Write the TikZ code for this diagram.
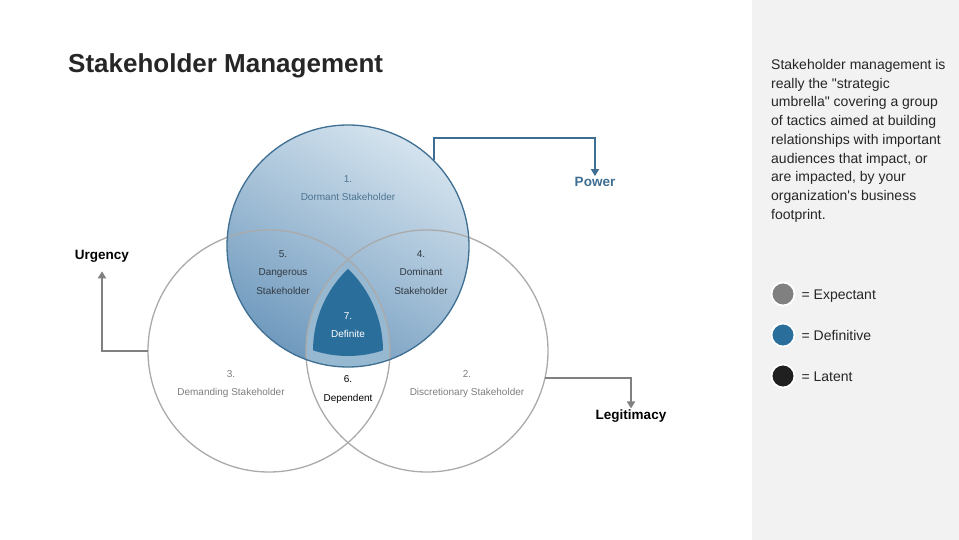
\documentclass[tikz,border=0pt]{standalone}
\usepackage{fontspec}
\setmainfont{Liberation Sans}[Ligatures=TeXOff]
\usepackage{tikz}
\usetikzlibrary{positioning,arrows.meta}
\definecolor{pwrclr}{RGB}{62,110,145}
\definecolor{pwrtop}{RGB}{212,227,238}
\definecolor{pwrbot}{RGB}{112,154,190}
\definecolor{bandclr}{RGB}{150,184,208}
\definecolor{defclr}{RGB}{42,110,155}
\definecolor{ringclr}{RGB}{170,170,170}
\definecolor{axisclr}{RGB}{128,128,128}
\definecolor{panelclr}{RGB}{242,242,242}
\definecolor{txtclr}{RGB}{38,38,38}
\definecolor{lblgray}{RGB}{125,125,125}
\definecolor{lbldark}{RGB}{50,58,66}
\definecolor{lblblue}{RGB}{75,115,145}
\definecolor{expclr}{RGB}{128,128,128}
\definecolor{latclr}{RGB}{32,32,32}
\tikzset{
  venn/.style={circle,minimum size=242pt,inner sep=0pt,outer sep=0pt},
  ring/.style={venn,draw=ringclr,line width=1.3pt},
  pwring/.style={venn,draw=pwrclr,line width=1.3pt},
  region/.style={align=center,font=\fontsize{10}{18.5}\selectfont,inner sep=0pt},
  axislbl/.style={font=\fontsize{13.5}{16}\selectfont\bfseries,inner sep=1pt},
  axisline/.style={draw=axisclr,line width=2pt,-{Triangle[length=7pt,width=8pt]}},
  key/.style={circle,draw=white,line width=1.8pt,minimum size=23pt,inner sep=0pt},
  keylbl/.style={font=\fontsize{14}{16}\selectfont,text=txtclr,inner sep=0pt},
}

\begin{document}
\begin{tikzpicture}[x=1pt,y=-1pt]
\useasboundingbox (0,0) rectangle (959,540);
\fill[panelclr] (752,0) rectangle (959,540);
\node[font=\fontsize{26}{30}\selectfont\bfseries,text=txtclr,anchor=base west,inner sep=0pt] (title) at (68,73) {Stakeholder Management};

\coordinate (uc) at (269,351);
\coordinate (lc) at (427,351);
\coordinate (pc) at (348,246);
\shade[top color=pwrtop,bottom color=pwrbot,shading angle=-30] (pc) circle (121pt);
\begin{scope}
  \clip (uc) circle (121pt);
  \clip (lc) circle (121pt);
  \fill[bandclr] (pc) circle (121pt);
\end{scope}
\begin{scope}
  \clip (uc) circle (114pt);
  \clip (lc) circle (114pt);
  \fill[defclr] (pc) circle (110pt);
\end{scope}
\node[ring] (urg) at (uc) {};
\node[ring] (leg) at (lc) {};
\node[pwring] (pow) at (pc) {};

\node[region,text=lblblue] (dormant) at (348,188) {1.\\Dormant Stakeholder};
\node[region,text=lbldark] (danger) at (283,272.5) {5.\\Dangerous\\Stakeholder};
\node[region,text=lbldark] (domin) at (421,272.5) {4.\\Dominant\\Stakeholder};
\node[region,text=white] (defin) at (348,325) {7.\\Definite};
\node[region,text=lblgray] (demand) at (231,384) {3.\\Demanding Stakeholder};
\node[region,text=black] (depend) at (348,389.5) {6.\\Dependent};
\node[region,text=lblgray] (discr) at (467,384) {2.\\Discretionary Stakeholder};

\node[axislbl,text=pwrclr] (pwrlbl) at (595,182) {Power};
\node[axislbl,text=black] (urglbl) at (102,256) {Urgency};
\node[axislbl,text=black] (leglbl) at (631,416) {Legitimacy};
\draw[axisline,draw=pwrclr] (pow.45) -- ++(0,-22) -| (pwrlbl.north);
\draw[axisline] (urg.west) -| ([yshift=-8pt]urglbl.south);
\draw[axisline] (leg.-13) -| (leglbl.north);

\node[anchor=north west,align=left,inner sep=0pt,text=txtclr,
      font=\fontsize{14}{18.75}\selectfont] (blurb) at (771,59)
  {Stakeholder management is\\really the "strategic\\umbrella" covering a group\\of tactics aimed at building\\relationships with important\\audiences that impact, or\\are impacted, by your\\organization's business\\footprint.};

\node[key,fill=expclr] (kexp) at (783,294) {};
\node[key,fill=defclr] (kdef) at (783,335) {};
\node[key,fill=latclr] (klat) at (783,376) {};
\node[keylbl,right=6pt of kexp,anchor=base west,yshift=-5pt] (lexp) {= Expectant};
\node[keylbl,right=6pt of kdef,anchor=base west,yshift=-5pt] (ldef) {= Definitive};
\node[keylbl,right=6pt of klat,anchor=base west,yshift=-5pt] (llat) {= Latent};
\end{tikzpicture}
\end{document}
